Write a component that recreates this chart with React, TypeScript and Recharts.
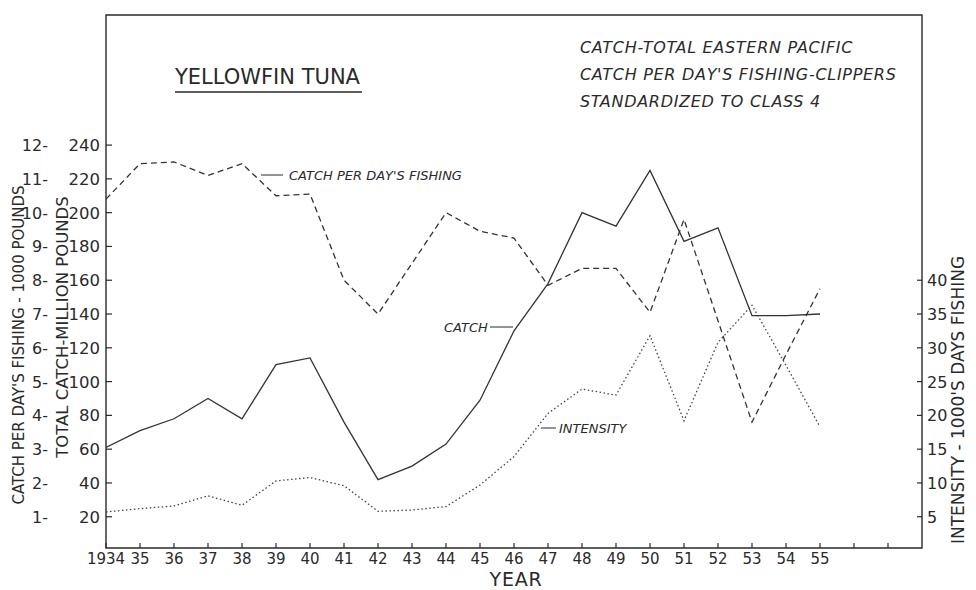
import { LineChart, Line, XAxis, YAxis, ReferenceArea } from "recharts";

const years = [
  1934, 1935, 1936, 1937, 1938, 1939, 1940, 1941, 1942, 1943, 1944,
  1945, 1946, 1947, 1948, 1949, 1950, 1951, 1952, 1953, 1954, 1955,
];
// total catch, million pounds
const totalCatch = [
  61, 71, 78, 90, 78, 110, 114, 76, 42, 50, 63, 89, 130, 158, 200, 192, 225,
  183, 191, 139, 139, 140,
];
// catch per day's fishing, 1000 pounds
const catchPerDay = [
  10.4, 11.45, 11.5, 11.1, 11.45, 10.5, 10.55, 8.0, 7.0, 8.5, 10.0, 9.45,
  9.25, 7.85, 8.35, 8.35, 7.05, 9.8, 6.8, 3.8, 5.8, 7.75,
];
// intensity, 1000's days fishing
const intensity = [
  5.7, 6.2, 6.6, 8.1, 6.7, 10.3, 10.8, 9.6, 5.8, 6.0, 6.5, 9.7, 13.9, 20.3,
  23.9, 23.0, 31.8, 19.2, 30.8, 36.3, 27.4, 18.3,
];

const yearTicks = [
  1934, 1935, 1936, 1937, 1938, 1939, 1940, 1941, 1942, 1943, 1944, 1945,
  1946, 1947, 1948, 1949, 1950, 1951, 1952, 1953, 1954, 1955, 1956, 1957,
];
const yearLabels = [
  "1934", "35", "36", "37", "38", "39", "40", "41", "42", "43", "44", "45",
  "46", "47", "48", "49", "50", "51", "52", "53", "54", "55", "", "",
];
const catchTicks = [20, 40, 60, 80, 100, 120, 140, 160, 180, 200, 220, 240];
const perDayLabels = ["1-", "2-", "3-", "4-", "5-", "6-", "7-", "8-", "9-", "10-", "11-", "12-"];
const intensityTicks = [5, 10, 15, 20, 25, 30, 35, 40];

const data = years.map((year, i) => ({
  year,
  total: totalCatch[i],
  perDay: catchPerDay[i],
  intensity: intensity[i],
}));

const FONT = "'DejaVu Sans', sans-serif";
const INK = "#2a2a2a";

const LeftTick = (props: any) => {
  const { x, y, index, payload } = props;
  return (
    <g>
      <line x1={x} x2={x + 6} y1={y} y2={y} stroke={INK} strokeWidth={1.2} />
      <text x={x - 6} y={y} dy={6} textAnchor="end" fontSize={16.5} fill={INK} fontFamily={FONT}>
        {payload.value}
      </text>
      <text x={x - 58} y={y} dy={6} textAnchor="end" fontSize={16} fill={INK} fontFamily={FONT}>
        {perDayLabels[index]}
      </text>
    </g>
  );
};

const RightTick = (props: any) => {
  const { x, y, payload } = props;
  return (
    <g>
      <line x1={x - 5} x2={x} y1={y} y2={y} stroke={INK} strokeWidth={1.2} />
      <text x={x + 5} y={y} dy={6} textAnchor="start" fontSize={16} fill={INK} fontFamily={FONT}>
        {payload.value}
      </text>
    </g>
  );
};

const BottomTick = (props: any) => {
  const { x, y, index } = props;
  return (
    <g>
      <line x1={x} x2={x} y1={y - 5} y2={y} stroke={INK} strokeWidth={1.2} />
      <text x={x} y={y} dy={16} textAnchor="middle" fontSize={15} fill={INK} fontFamily={FONT}>
        {yearLabels[index]}
      </text>
    </g>
  );
};

export default function App() {
  return (
    <div style={{ position: "absolute", left: 0, top: 0, background: "#fff" }}>
      <LineChart
        width={976}
        height={590}
        data={data}
        margin={{ top: 15, right: 0, bottom: 0, left: 0 }}
      >
        <XAxis
          dataKey="year"
          type="number"
          domain={[1934, 1958]}
          ticks={yearTicks}
          allowDataOverflow
          height={42}
          axisLine={false}
          tickLine={false}
          tickSize={0}
          tickMargin={0}
          interval={0}
          tick={BottomTick}
        />
        <YAxis
          yAxisId="catch"
          orientation="left"
          width={106}
          domain={[1.5, 317]}
          ticks={catchTicks}
          allowDataOverflow
          axisLine={false}
          tickLine={false}
          tickSize={0}
          tickMargin={0}
          interval={0}
          tick={LeftTick}
        />
        <YAxis yAxisId="perDay" hide domain={[0.075, 15.85]} allowDataOverflow />
        <YAxis
          yAxisId="intensity"
          orientation="right"
          width={54}
          domain={[0.375, 79.25]}
          ticks={intensityTicks}
          allowDataOverflow
          axisLine={false}
          tickLine={false}
          tickSize={0}
          tickMargin={0}
          interval={0}
          tick={RightTick}
        />
        <ReferenceArea
          yAxisId="catch"
          x1={1934}
          x2={1958}
          y1={1.5}
          y2={317}
          fill="none"
          stroke={INK}
          strokeWidth={1.4}
          ifOverflow="visible"
        />
        <Line
          yAxisId="catch"
          dataKey="total"
          type="linear"
          stroke="#333"
          strokeWidth={1.3}
          dot={false}
          isAnimationActive={false}
        />
        <Line
          yAxisId="perDay"
          dataKey="perDay"
          type="linear"
          stroke="#333"
          strokeWidth={1.3}
          strokeDasharray="6 4"
          dot={false}
          isAnimationActive={false}
        />
        <Line
          yAxisId="intensity"
          dataKey="intensity"
          type="linear"
          stroke="#444"
          strokeWidth={1.3}
          strokeDasharray="1.5 2.5"
          dot={false}
          isAnimationActive={false}
        />

        <g fontFamily={FONT} fill={INK}>
          <text x={175} y={84} fontSize={21}>YELLOWFIN TUNA</text>
          <line x1={175} x2={362} y1={92} y2={92} stroke={INK} strokeWidth={1.3} />
          <text x={580} y={53} fontSize={16} letterSpacing={0.7} fontStyle="italic">CATCH-TOTAL EASTERN PACIFIC</text>
          <text x={580} y={80} fontSize={16} letterSpacing={0.7} fontStyle="italic">CATCH PER DAY'S FISHING-CLIPPERS</text>
          <text x={580} y={107} fontSize={16} letterSpacing={0.7} fontStyle="italic">STANDARDIZED TO CLASS 4</text>

          <line x1={261} x2={283} y1={175} y2={175} stroke={INK} strokeWidth={1} />
          <text x={289} y={180} fontSize={13} fontStyle="italic">CATCH PER DAY'S FISHING</text>
          <text x={444} y={332} fontSize={13} fontStyle="italic">CATCH</text>
          <line x1={490} x2={513} y1={327} y2={327} stroke={INK} strokeWidth={1} />
          <line x1={541} x2={556} y1={428} y2={428} stroke={INK} strokeWidth={1} />
          <text x={559} y={433} fontSize={13} fontStyle="italic">INTENSITY</text>

          <text x={516} y={585.5} fontSize={19} letterSpacing={0.8} textAnchor="middle">YEAR</text>
          <text
            x={19}
            y={345}
            fontSize={15}
            textAnchor="middle"
            dominantBaseline="central"
            transform="rotate(-90 19 345)"
          >
            CATCH PER DAY'S FISHING - 1000 POUNDS
          </text>
          <text
            x={62}
            y={327}
            fontSize={16.5}
            textAnchor="middle"
            dominantBaseline="central"
            transform="rotate(-90 62 327)"
          >
            TOTAL CATCH-MILLION POUNDS
          </text>
          <text
            x={958}
            y={400}
            fontSize={17}
            textAnchor="middle"
            dominantBaseline="central"
            transform="rotate(-90 958 400)"
          >
            INTENSITY - 1000'S DAYS FISHING
          </text>
        </g>
      </LineChart>
    </div>
  );
}
